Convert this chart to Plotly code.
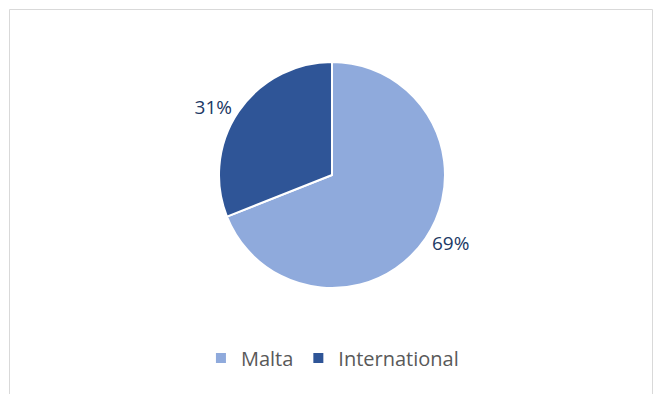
import plotly.graph_objects as go

labels = ["Malta", "International"]
values = [69, 31]
colors = ["#8FAADC", "#2F5597"]

W, H = 657, 394
fig = go.Figure(go.Pie(
    labels=labels, values=values, sort=False, direction="clockwise", rotation=0,
    marker=dict(colors=colors, line=dict(color="white", width=2)),
    texttemplate="%{percent:.0%}", textposition="outside",
    textfont=dict(family="Open Sans", size=19, color="#203864"),
    domain=dict(x=[219 / W, 445 / W], y=[1 - 288 / H, 1 - 62 / H]),
    hoverinfo="skip",
))
fig.update_layout(
    width=W, height=H, margin=dict(l=0, r=0, t=0, b=0),
    paper_bgcolor="white", plot_bgcolor="white",
    showlegend=True,
    legend=dict(orientation="h", x=0.506, xanchor="center", y=1 - 358 / H, yanchor="middle",
                font=dict(family="Open Sans", size=20, color="#595959"), itemwidth=30,
                tracegroupgap=0),
    shapes=[dict(type="rect", xref="paper", yref="paper", x0=9.5 / W, x1=652.5 / W,
                 y0=-0.05, y1=1 - 9.5 / H, line=dict(color="#D9D9D9", width=1))],
)
fig.write_html("out.html")
